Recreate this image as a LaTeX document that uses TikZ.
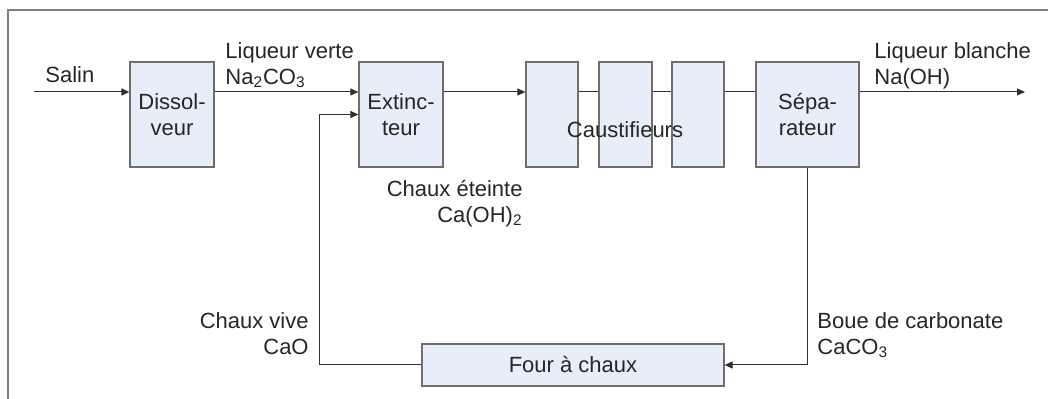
\documentclass[tikz,border=0pt]{standalone}
\usepackage{fontspec}
\setmainfont{Liberation Sans}
\usetikzlibrary{arrows.meta,positioning}
\definecolor{boxfill}{HTML}{E8EEF7}
\definecolor{boxline}{HTML}{6E6E6E}
\definecolor{flow}{HTML}{303030}

\begin{document}
\begin{tikzpicture}[x=0.5pt,y=-0.5pt,
  every node/.style={font=\fontsize{11}{13}\selectfont,text=black!85},
  box/.style={draw=boxline,fill=boxfill,line width=0.6pt,align=center,inner sep=0pt,minimum height=52.5pt},
  lbl/.style={inner sep=0pt},
  fl/.style={draw=flow,line width=0.5pt},
  arr/.style={fl,-{Triangle[length=4pt,width=3.5pt]}}]
\useasboundingbox (0,0) rectangle (1048,399);
\draw[gray,line width=0.8pt] (1048,10) -- (8,10) -- (8,399);
% process units
\node[box,minimum width=42pt] (diss) at (172,114.5) {Dissol-\\veur};
\node[box,minimum width=42pt] (ext) at (401,114.5) {Extinc-\\teur};
\node[box,minimum width=26pt] (caus1) at (552,114.5) {};
\node[box,minimum width=26.5pt] (caus2) at (625.5,114.5) {};
\node[box,minimum width=26pt] (caus3) at (698,114.5) {};
\node[box,minimum width=51.5pt] (sep) at (807.5,114.5) {Sépa-\\rateur};
\node[box,minimum width=151pt,minimum height=21pt] (four) at (573,365) {Four à chaux};
\node[lbl] (caus) at (625,130) {Caustifieurs};
% flows
\coordinate (salin) at (34,92);
\coordinate (sortie) at (1025,92);
\coordinate (retour) at (319,114.5);
\draw[arr] (salin) -- (salin -| diss.west);
\draw[arr] (salin -| diss.east) -- (salin -| ext.west);
\draw[arr] (salin -| ext.east) -- (salin -| caus1.west);
\draw[fl] (salin -| caus1.east) -- (salin -| caus2.west);
\draw[fl] (salin -| caus2.east) -- (salin -| caus3.west);
\draw[fl] (salin -| caus3.east) -- (salin -| sep.west);
\draw[arr] (salin -| sep.east) -- (sortie);
\draw[arr] (sep.south) |- (four.east);
\draw[arr] (four.west) -| (retour) -- (ext.west);
% labels
\node[lbl,anchor=base west] (salinl) at (45,83) {Salin};
\node[lbl,anchor=north west,align=left] (verte) at (225,42) {Liqueur verte\\Na\textsubscript{2}CO\textsubscript{3}};
\node[lbl,anchor=north west,align=left] (blanche) at (874,42) {Liqueur blanche\\Na(OH)};
\node[lbl,anchor=north east,align=right] (eteinte) at (523,180) {Chaux éteinte\\Ca(OH)\textsubscript{2}};
\node[lbl,anchor=north east,align=right] (vive) at (309,312) {Chaux vive\\CaO};
\node[lbl,anchor=north west,align=left] (boue) at (817,312) {Boue de carbonate\\CaCO\textsubscript{3}};
\end{tikzpicture}
\end{document}
